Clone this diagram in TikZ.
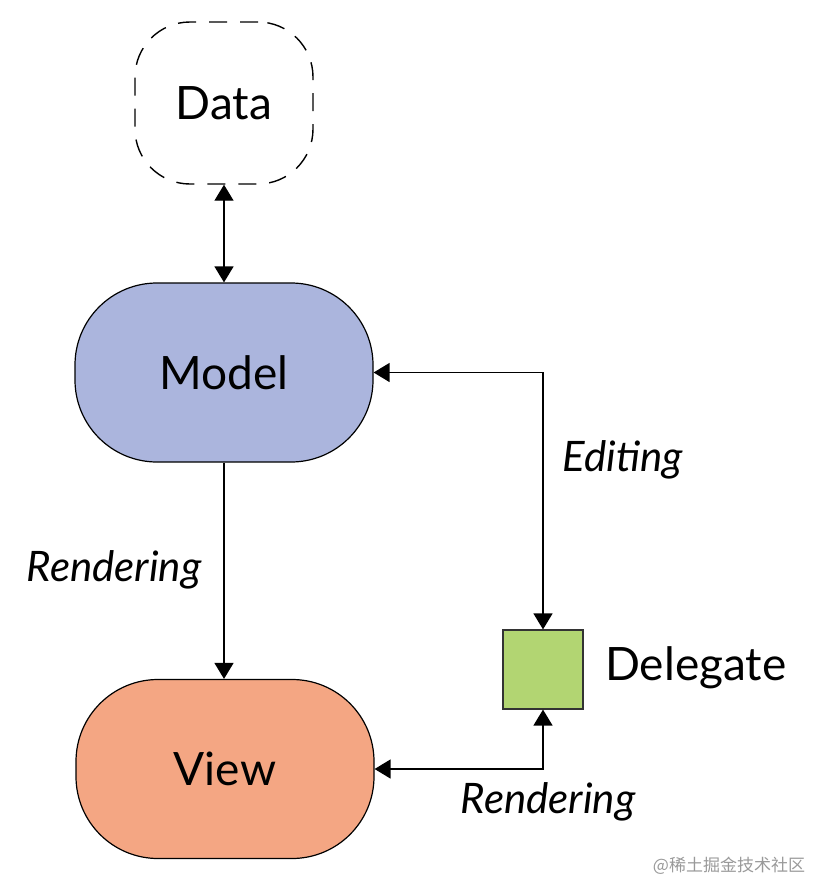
\documentclass[tikz,border=0pt]{standalone}
\usepackage{fontspec}
\setmainfont{Lato}
\newfontfamily\cjk{Noto Sans CJK SC}
\usetikzlibrary{arrows.meta}
\definecolor{modelc}{HTML}{ABB5DD}
\definecolor{viewc}{HTML}{F4A683}
\definecolor{delc}{HTML}{B2D572}
\tikzset{
  box/.style={draw=black, line width=1.2pt, minimum width=298pt, minimum height=179pt, rounded corners=82pt, inner sep=0pt, font=\fontsize{46}{50}\selectfont},
  conn/.style={line width=1.4pt, {Triangle[length=16pt,width=19pt]}-{Triangle[length=16pt,width=19pt]}},
  lbl/.style={font=\fontsize{42}{46}\selectfont\itshape},
}
\begin{document}
\begin{tikzpicture}[x=1pt,y=-1pt]
\useasboundingbox (0,0) rectangle (812,883);
\node[draw=black, line width=1.4pt, dash pattern=on 18pt off 13pt, minimum width=178pt, minimum height=162pt, rounded corners=55pt, font=\fontsize{46}{50}\selectfont] (data) at (224,103) {Data};
\node[box, fill=modelc] (model) at (224,372.5) {Model};
\node[box, fill=viewc] (view) at (225,769) {View};
\node[draw=black!80, fill=delc, line width=1.2pt, minimum width=80pt, minimum height=79pt, inner sep=0pt] (del) at (543,669.5) {};
\node[anchor=west, font=\fontsize{46}{50}\selectfont, inner sep=0pt] (dellbl) at (605,668) {Delegate};
\draw[conn] (data.south) -- (model.north);
\draw[line width=1.4pt, -{Triangle[length=16pt,width=19pt]}] (model.south) -- (model.south |- view.north);
\draw[conn] (model.east) -| (del.north);
\draw[conn] (view.east) -| (del.south);
\node[lbl] (r1) at (114,570) {Rendering};
\node[lbl] (ed) at (623,460) {Editing};
\node[lbl] (r2) at (548,802) {Rendering};
\node[text=black!40, font=\cjk\fontsize{17}{20}\selectfont] (wm) at (729,866) {@稀土掘金技术社区};
\end{tikzpicture}
\end{document}
